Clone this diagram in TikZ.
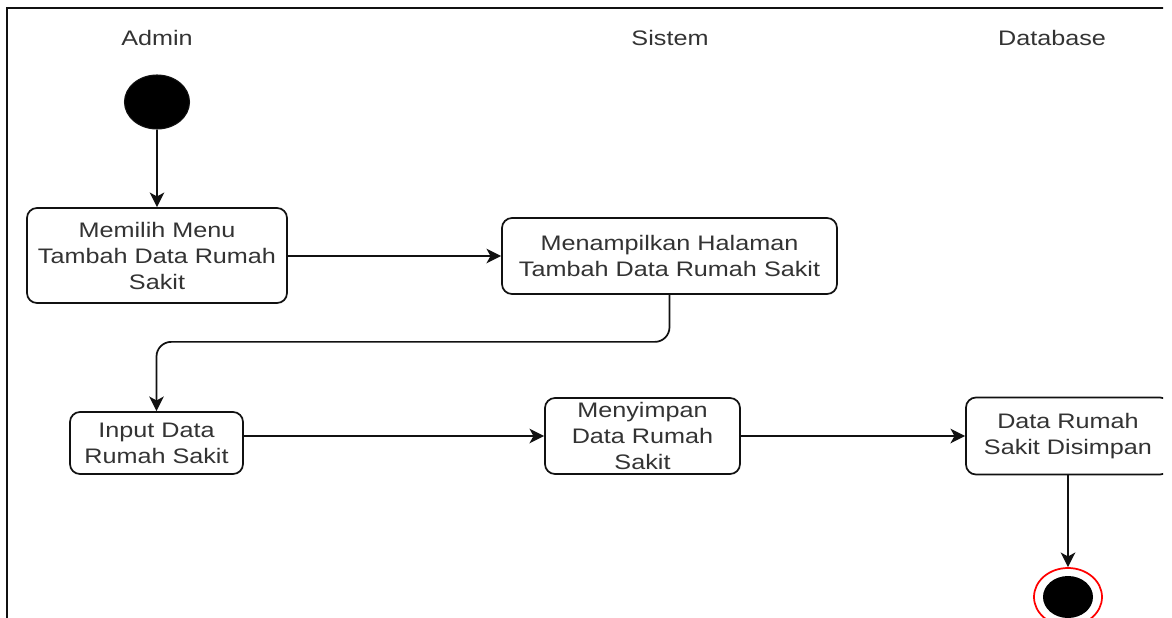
\documentclass[tikz,border=0pt]{standalone}
\usepackage{fontspec}
\setmainfont{Liberation Sans}[FakeStretch=1.2]
\usetikzlibrary{arrows.meta,shapes.geometric,calc}
\definecolor{txt}{HTML}{333333}
\definecolor{ln}{HTML}{111111}
\begin{document}
\begin{tikzpicture}[x=0.75pt,y=-0.75pt,
  every node/.style={font=\fontsize{15.75}{19.5}\selectfont, text=txt},
  act/.style={draw=ln, line width=1.3pt, rounded corners=7.5pt, fill=white,
    align=center, inner sep=0pt},
  flow/.style={draw=ln, line width=1.3pt,
    -{Stealth[length=11pt,width=11pt,inset=3pt]}},
  lane/.style={anchor=center}]
\useasboundingbox (0,0) rectangle (1172,618);
\clip (0,0) rectangle (1163,618);

% frame
\draw[line width=1.4pt, draw=ln] (1172,8) -- (7,8) -- (7,620);

% lane titles
\node[lane] (tadmin) at (157,38) {Admin};
\node[lane] (tsistem) at (670,38) {Sistem};
\node[lane] (tdb) at (1052,38) {Database};

% start and end states
\node[ellipse, fill=black, draw=ln, line width=0.8pt, inner sep=0pt,
  minimum width=48.75pt, minimum height=40.5pt] (start) at (157,102) {};
\node[ellipse, draw=red, line width=1.3pt, fill=white, inner sep=0pt,
  minimum width=51pt, minimum height=43.5pt] (final) at (1068,597) {};
\node[ellipse, fill=black, inner sep=0pt,
  minimum width=37.5pt, minimum height=31.5pt] (finalin) at (final) {};

% activities
\node[act, minimum width=195pt, minimum height=71.25pt] (b1) at (157,255.5)
  {Memilih Menu\\Tambah Data Rumah\\Sakit};
\node[act, minimum width=251.25pt, minimum height=57pt] (b2) at (669.5,256)
  {Menampilkan Halaman\\Tambah Data Rumah Sakit};
\node[act, minimum width=129.75pt, minimum height=46.5pt] (b3) at (156.5,443)
  {Input Data\\Rumah Sakit};
\node[act, minimum width=146.25pt, minimum height=57pt] (b4) at (642.5,436)
  {Menyimpan\\Data Rumah\\Sakit};
\node[act, minimum width=153pt, minimum height=57.75pt] (b5) at (1068,436)
  {Data Rumah\\Sakit Disimpan};

% flow
\draw[flow] (start) -- (b1);
\draw[flow] (b1.east |- b2.west) -- (b2.west);
\draw[flow, rounded corners=11pt] (b2.south) -- ++(0,47) -| (b3.north);
\draw[flow] (b3.east |- b4.west) -- (b4.west);
\draw[flow] (b4.east) -- (b5.west);
\draw[flow] (b5.south) -- (final.north);
\end{tikzpicture}
\end{document}
